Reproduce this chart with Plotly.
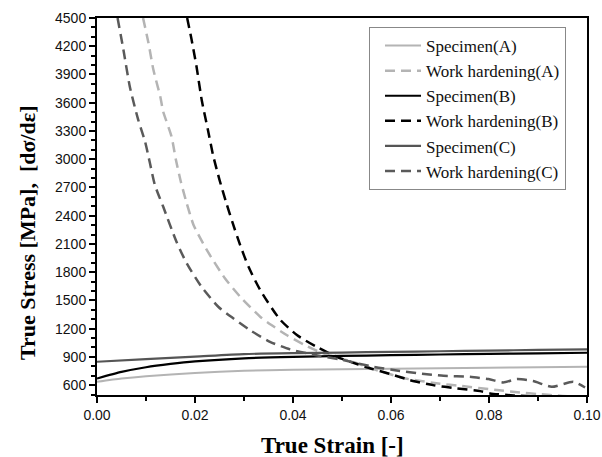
import plotly.graph_objects as go

# ---- data ----
spec_a_x = [0, 0.005, 0.01, 0.02, 0.03, 0.04, 0.05, 0.06, 0.07, 0.08, 0.09, 0.1]
spec_a_y = [635, 670, 695, 730, 752, 762, 768, 774, 780, 785, 790, 795]

spec_b_x = [0, 0.005, 0.01, 0.015, 0.02, 0.03, 0.04, 0.05, 0.06, 0.07, 0.08, 0.09, 0.1]
spec_b_y = [670, 740, 790, 825, 852, 885, 900, 910, 918, 925, 932, 938, 944]

spec_c_x = [0, 0.01, 0.02, 0.03, 0.04, 0.05, 0.06, 0.07, 0.08, 0.09, 0.1]
spec_c_y = [848, 877, 903, 930, 940, 946, 953, 960, 967, 974, 980]

wh_a_x = [0.0094, 0.0105, 0.0115, 0.0129, 0.0135, 0.0152, 0.0161, 0.0171, 0.0183, 0.0197,
          0.0224, 0.0261, 0.0292, 0.0333, 0.0356, 0.0387, 0.0424, 0.0462, 0.052,
          0.057, 0.063, 0.07, 0.0741, 0.0816, 0.0863, 0.09, 0.095, 0.1]
wh_a_y = [4500, 4236, 3952, 3668, 3508, 3242, 2994, 2763, 2533, 2302,
          2036, 1735, 1540, 1327, 1238, 1132, 1026, 937, 850,
          760, 670, 615, 593, 547, 522, 505, 485, 470]

wh_b_x = [0.0184, 0.0193, 0.0203, 0.0214, 0.0226, 0.0237, 0.025, 0.0263, 0.0277, 0.0292,
          0.0309, 0.0333, 0.0373, 0.0408, 0.0448, 0.0489, 0.0516, 0.055, 0.06,
          0.0639, 0.0686, 0.0734, 0.0782, 0.0802, 0.085, 0.1]
wh_b_y = [4500, 4271, 3987, 3620, 3320, 3040, 2781, 2550, 2320, 2090,
          1859, 1611, 1300, 1132, 1007, 901, 850, 790, 715,
          653, 600, 565, 536, 512, 490, 460]

wh_c_x = [0.0042, 0.0054, 0.0067, 0.0084, 0.0098, 0.0108, 0.0118, 0.0135, 0.0162, 0.0183,
          0.0213, 0.0248, 0.0278, 0.0312, 0.0353, 0.0394, 0.0445, 0.0496, 0.0564, 0.0618,
          0.0659, 0.0707, 0.0761, 0.0799, 0.0829, 0.0857, 0.089, 0.0928, 0.0972, 0.0996]
wh_c_y = [4500, 4160, 3770, 3420, 3189, 2959, 2728, 2497, 2125, 1895,
          1646, 1430, 1310, 1185, 1060, 980, 920, 873, 795, 750,
          724, 699, 688, 664, 629, 664, 643, 582, 635, 575]

x_tick_vals = [0.00, 0.02, 0.04, 0.06, 0.08, 0.10]
x_tick_text = ["0.00", "0.02", "0.04", "0.06", "0.08", "0.10"]
y_tick_vals = list(range(600, 4501, 300))

series = [
    ("Specimen(A)", spec_a_x, spec_a_y, "#b4b4b4", "solid", 2),
    ("Work hardening(A)", wh_a_x, wh_a_y, "#b4b4b4", "10px,6px", 2.5),
    ("Specimen(B)", spec_b_x, spec_b_y, "#000000", "solid", 2.2),
    ("Work hardening(B)", wh_b_x, wh_b_y, "#000000", "10px,6px", 2.5),
    ("Specimen(C)", spec_c_x, spec_c_y, "#555555", "solid", 2.2),
    ("Work hardening(C)", wh_c_x, wh_c_y, "#5a5a5a", "10px,6px", 2.5),
]

fig = go.Figure()
for name, xs, ys, col, dash, w in series:
    fig.add_trace(go.Scatter(
        x=xs, y=ys, name=name, mode="lines",
        line=dict(color=col, dash=dash, width=w, shape="spline", smoothing=0.6),
    ))

fig.update_layout(
    width=602, height=457, autosize=False,
    margin=dict(l=97, r=15, t=18, b=62, pad=0),
    paper_bgcolor="white", plot_bgcolor="white",
    showlegend=True,
    legend=dict(
        x=(369 - 97) / 490, y=1 - (27 - 18) / 377, xanchor="left", yanchor="top",
        bgcolor="white", bordercolor="#888888", borderwidth=1,
        font=dict(family="Liberation Serif, Times New Roman, serif", size=17, color="#111111"),
        indentation=10, itemwidth=36, tracegroupgap=0,
        entrywidth=200, entrywidthmode="pixels",
    ),
    xaxis=dict(
        range=[0, 0.1], tickvals=x_tick_vals, ticktext=x_tick_text, automargin=False,
        ticks="outside", ticklen=6, tickwidth=2, tickcolor="black",
        minor=dict(dtick=0.01, ticks="outside", ticklen=4, tickwidth=2, tickcolor="black"),
        showline=True, linewidth=2, linecolor="black", mirror=True,
        showgrid=False, zeroline=False,
        tickfont=dict(family="Liberation Sans, Arial, sans-serif", size=14, color="#111111"),
    ),
    yaxis=dict(
        range=[495, 4500], tickvals=y_tick_vals, automargin=False,
        ticks="outside", ticklen=6, tickwidth=2, tickcolor="black",
        minor=dict(dtick=100, tick0=0, ticks="outside", ticklen=4, tickwidth=2, tickcolor="black"),
        showline=True, linewidth=2, linecolor="black", mirror=True,
        showgrid=False, zeroline=False,
        tickfont=dict(family="Liberation Sans, Arial, sans-serif", size=14, color="#111111"),
    ),
    annotations=[
        dict(text="<b>True Strain [-]</b>", xref="paper", yref="paper",
             x=0.48, y=-0.133, xanchor="center", yanchor="middle", showarrow=False,
             font=dict(family="Liberation Serif, Times New Roman, serif", size=23, color="black")),
        dict(text="<b>True Stress [MPa],  [dσ/dε]</b>", xref="paper", yref="paper",
             x=-0.143, y=0.432, xanchor="center", yanchor="middle", textangle=-90, showarrow=False,
             font=dict(family="Liberation Serif, Times New Roman, serif", size=22, color="black")),
    ],
)

fig.write_html(
    "out.html",
    config={"displayModeBar": False},
    post_script="document.body.style.margin='0';document.body.style.overflow='hidden';",
)
